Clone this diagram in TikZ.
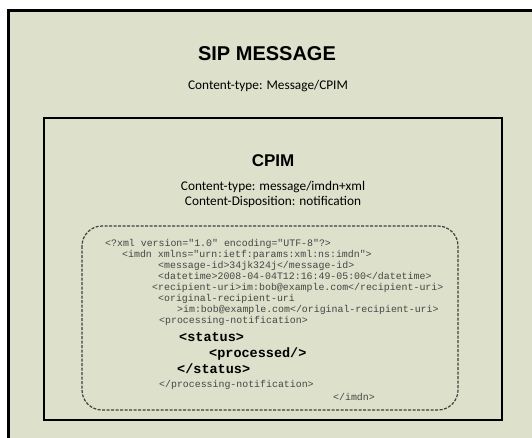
\documentclass[tikz,border=0pt]{standalone}
\usepackage{fontspec}
\setmainfont{Carlito}
\newfontfamily\headfont{Liberation Sans}
\newfontfamily\codefont{Liberation Mono}
\definecolor{panel}{RGB}{221,224,202}
\definecolor{codegray}{RGB}{70,70,70}
\tikzset{
  framebox/.style={line width=3pt, draw=black, fill=panel},
  partbox/.style={line width=2pt, draw=black},
  bodybox/.style={line width=1.2pt, draw=black!75, dash pattern=on 3pt off 1.5pt, rounded corners=20pt},
  heading/.style={anchor=base, inner sep=0pt, font=\headfont\bfseries\fontsize{20}{24}\selectfont},
  subheading/.style={anchor=base, inner sep=0pt, font=\headfont\bfseries\fontsize{17}{20}\selectfont},
  header/.style={anchor=base, inner sep=0pt, font=\fontsize{13.3}{16}\selectfont},
  codeline/.style={anchor=base west, inner sep=0pt, text=codegray, font=\codefont\fontsize{9.9}{11}\selectfont},
  codebig/.style={anchor=base west, inner sep=0pt, text=black, font=\codefont\bfseries\fontsize{13.5}{16}\selectfont}
}
\begin{document}
\begin{tikzpicture}[x=1pt,y=-1pt]
  \useasboundingbox (0,0) rectangle (532,437);
  \clip (0,0) rectangle (532,437);
  \fill[white] (0,0) rectangle (532,437);

  % SIP message frame (runs off the right and bottom edges)
  \draw[framebox] (8.5,10.5) rectangle (560,470);
  % CPIM part
  \draw[partbox] (43.5,117.5) rectangle (502,420);
  % IMDN body
  \draw[bodybox] (82,226) rectangle (458,410);

  \node[heading] (sip) at (267,60) {SIP MESSAGE};
  \node[header] (sipct) at (268,89.5) {Content-type: Message/CPIM};

  \node[subheading] (cpim) at (273,166) {CPIM};
  \node[header] (cpimct) at (273,190) {Content-type: message/imdn+xml};
  \node[header] (cpimcd) at (273,205.5) {Content-Disposition: notification};

  \node[codeline] (l1) at (105,246.5) {<?xml version="1.0" encoding="UTF-8"?>};
  \node[codeline] (l2) at (122,257.5) {<imdn xmlns="urn:ietf:params:xml:ns:imdn">};
  \node[codeline] (l3) at (158,268.5) {<message-id>34jk324j</message-id>};
  \node[codeline] (l4) at (158,279.5) {<datetime>2008-04-04T12:16:49-05:00</datetime>};
  \node[codeline] (l5) at (152,290.5) {<recipient-uri>im:bob@example.com</recipient-uri>};
  \node[codeline] (l6) at (158,301.5) {<original-recipient-uri};
  \node[codeline] (l7) at (177,312.5) {>im:bob@example.com</original-recipient-uri>};
  \node[codeline] (l8) at (159,323.5) {<processing-notification>};
  \node[codebig] (l9) at (179,341.5) {<status>};
  \node[codebig] (l10) at (209,357.5) {<processed/>};
  \node[codebig] (l11) at (177,373.5) {</status>};
  \node[codeline] (l12) at (159,387.5) {</processing-notification>};
  \node[codeline] (l13) at (333,400.5) {</imdn>};
\end{tikzpicture}
\end{document}
